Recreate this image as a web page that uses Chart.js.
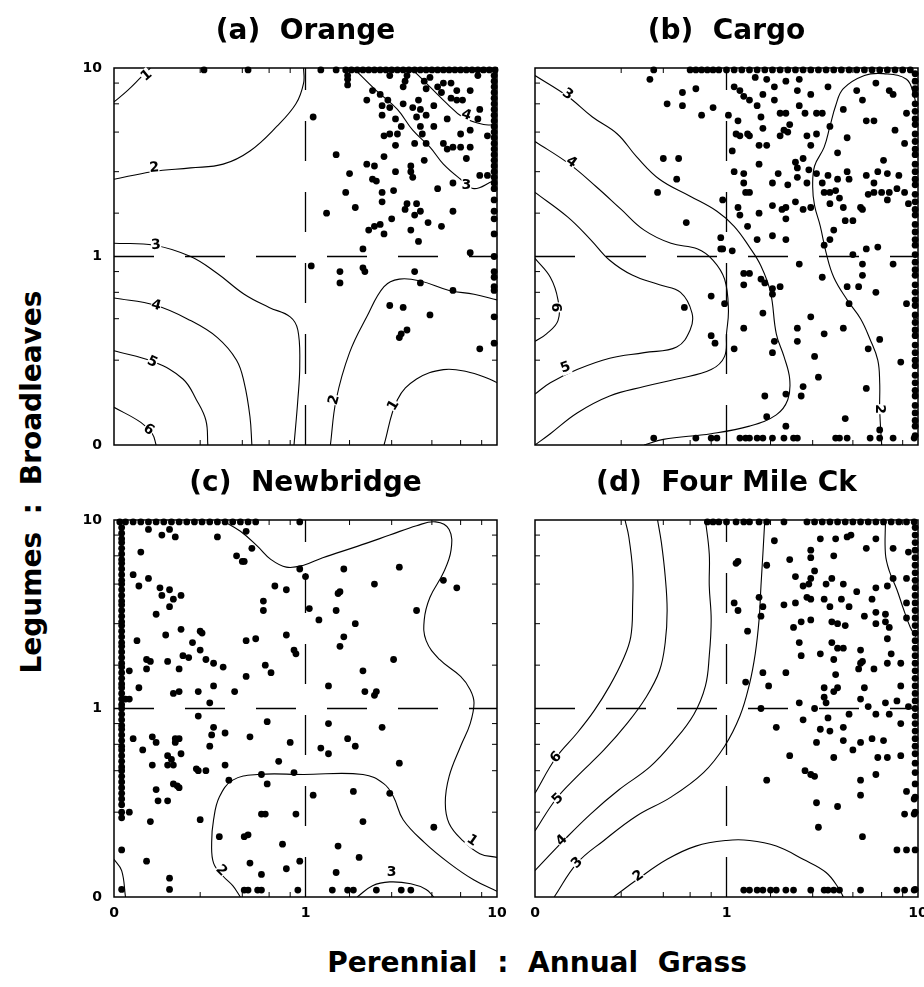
<!DOCTYPE html>
<html>
<head>
<meta charset="utf-8">
<script src="https://cdn.jsdelivr.net/npm/chart.js@4.4.1/dist/chart.umd.min.js"></script>
<style>
  html, body { margin: 0; padding: 0; background: #fff; overflow: hidden; }
  #page { position: relative; width: 924px; height: 987px; overflow: hidden; }
  canvas { position: absolute; }
  .axt { position: absolute; font: bold 28px "DejaVu Sans"; color: #000; text-align: center; white-space: nowrap; line-height: 34px; }
</style>
</head>
<body>
<div id="page">
  <canvas id="ca" width="440" height="450" style="left:74px;top:0px"></canvas>
  <canvas id="cb" width="410" height="450" style="left:525px;top:0px"></canvas>
  <canvas id="cc" width="440" height="480" style="left:74px;top:450px"></canvas>
  <canvas id="cd" width="410" height="480" style="left:525px;top:450px"></canvas>
  <div class="axt" style="left:237px;top:946px;width:600px;word-spacing:10px">Perennial : Annual Grass</div>
  <div class="axt" style="left:-218px;top:465px;width:500px;word-spacing:8px;transform:rotate(-90deg)">Legumes : Broadleaves</div>
</div>
<script>
// axes: plotted position 0..2, labelled as ratios 0, 1, 10
const tickVals = [0, 1, 2];
const tickText = ['0', '1', '10'];
const minorTicks = [0.45, 0.67, 0.81, 0.92, 1.23, 1.45, 1.66, 1.81, 1.92];
const refLine = 1;
const topEdge = 1.99, rightEdge = 1.985, bottomEdge = 0.037, leftEdge = 0.04;

// (a) Orange
const orangePts = [[1.04,1.74],[1.16,1.54],[1.22,1.91],[1.22,1.94],[1.23,1.44],[1.21,1.34],[1.11,1.23],[1.26,1.26],[1.32,1.83],[1.32,1.49],[1.36,1.48],[1.37,1.40],[1.35,1.41],[1.41,1.53],[1.40,1.34],[1.40,1.29],[1.46,1.35],[1.41,1.64],[1.44,1.65],[1.35,1.88],[1.39,1.86],[1.43,1.83],[1.40,1.80],[1.40,1.75],[1.44,1.79],[1.47,1.73],[1.48,1.65],[1.50,1.69],[1.51,1.90],[1.52,1.93],[1.51,1.81],[1.56,1.79],[1.59,1.83],[1.60,1.78],[1.58,1.74],[1.60,1.69],[1.61,1.65],[1.63,1.60],[1.63,1.75],[1.67,1.80],[1.67,1.69],[1.69,1.90],[1.71,1.87],[1.72,1.92],[1.76,1.92],[1.76,1.84],[1.79,1.83],[1.82,1.83],[1.79,1.88],[1.86,1.88],[1.90,1.96],[1.91,1.78],[1.90,1.73],[1.84,1.75],[1.74,1.73],[1.81,1.65],[1.86,1.67],[1.95,1.64],[1.72,1.60],[1.74,1.57],[1.77,1.58],[1.81,1.58],[1.86,1.58],[1.84,1.52],[1.62,1.51],[1.55,1.48],[1.55,1.45],[1.56,1.42],[1.47,1.45],[1.47,1.59],[1.57,1.60],[1.53,1.28],[1.58,1.28],[1.57,1.22],[1.60,1.24],[1.64,1.18],[1.71,1.16],[1.77,1.24],[1.52,1.25],[1.45,1.20],[1.39,1.17],[1.36,1.16],[1.33,1.14],[1.41,1.12],[1.55,1.14],[1.59,1.08],[1.69,1.36],[1.77,1.39],[1.91,1.43],[1.95,1.43],[1.30,1.04],[1.86,1.02],[1.03,0.95],[1.18,0.92],[1.18,0.86],[1.30,0.94],[1.31,0.92],[1.57,0.92],[1.60,0.86],[1.77,0.82],[1.44,0.74],[1.51,0.73],[1.65,0.69],[1.53,0.61],[1.50,0.59],[1.49,0.57],[1.91,0.51],[1.65,1.95],[1.62,1.93],[1.63,1.89],[1.53,1.96],[1.44,1.96],[1.22,1.96]];
const orangeTopX = [0.47,0.70,1.08,1.16,1.21,1.24,1.27,1.30,1.33,1.36,1.39,1.42,1.45,1.48,1.51,1.54,1.57,1.60,1.63,1.66,1.69,1.72,1.75,1.78,1.81,1.84,1.87,1.90,1.93,1.96,1.99];
const orangeRightY = [1.96,1.93,1.90,1.87,1.84,1.81,1.78,1.75,1.72,1.69,1.66,1.63,1.60,1.57,1.54,1.51,1.48,1.45,1.42,1.39,1.36,1.30,1.24,1.20,1.12,1.00,0.92,0.89,0.84,0.82,0.68,0.54];
const orangeLines = [
  [[0,1.82],[0.07,1.88],[0.14,1.95],[0.19,2.0]],
  [[0,1.41],[0.2,1.45],[0.4,1.47],[0.57,1.49],[0.71,1.56],[0.85,1.69],[0.95,1.81],[0.99,1.92],[0.99,2.0]],
  [[1.25,2.0],[1.37,1.88],[1.48,1.78],[1.56,1.67],[1.65,1.58],[1.72,1.49],[1.81,1.41],[1.88,1.36],[1.98,1.40],[2.0,1.40]],
  [[1.55,2.0],[1.65,1.90],[1.74,1.81],[1.82,1.74],[1.93,1.70],[2.0,1.70]],
  [[0,1.07],[0.21,1.06],[0.40,1.0],[0.54,0.91],[0.68,0.80],[0.81,0.73],[0.92,0.68],[0.96,0.61],[0.97,0.42],[0.96,0.24],[0.94,0]],
  [[0,0.78],[0.22,0.74],[0.40,0.66],[0.54,0.57],[0.64,0.45],[0.68,0.33],[0.71,0.15],[0.72,0]],
  [[0,0.50],[0.21,0.44],[0.36,0.35],[0.43,0.24],[0.48,0.13],[0.49,0]],
  [[0,0.20],[0.14,0.12],[0.20,0.06],[0.22,0]],
  [[1.13,0],[1.16,0.24],[1.23,0.49],[1.32,0.68],[1.41,0.84],[1.49,0.88],[1.60,0.87],[1.75,0.82],[1.88,0.80],[2.0,0.77]],
  [[1.41,0],[1.48,0.24],[1.58,0.35],[1.72,0.40],[1.84,0.39],[1.96,0.35],[2.0,0.33]]
];
const orangeLabels = [[0.17,1.96,'1',-40],[0.21,1.47,'2',-5],[0.22,1.06,'3',-5],[0.22,0.74,'4',15],[0.20,0.44,'5',25],[0.18,0.08,'6',35],[1.15,0.24,'2',-75],[1.46,0.21,'1',-60],[1.84,1.38,'3',0],[1.84,1.75,'4',20]];

// (b) Cargo
const cargoPts = [[0.60,1.94],[0.77,1.87],[0.84,1.89],[0.69,1.81],[0.77,1.80],[0.93,1.79],[0.87,1.75],[1.01,1.75],[1.04,1.90],[1.07,1.88],[1.09,1.85],[1.12,1.83],[1.16,1.80],[1.15,1.95],[1.21,1.94],[1.25,1.90],[1.31,1.93],[1.38,1.94],[1.37,1.88],[1.44,1.86],[1.53,1.90],[1.19,1.86],[1.25,1.83],[1.28,1.76],[1.31,1.76],[1.33,1.70],[1.38,1.80],[1.41,1.76],[1.47,1.76],[1.50,1.76],[1.61,1.78],[1.68,1.88],[1.78,1.92],[1.85,1.88],[1.87,1.86],[1.71,1.83],[1.94,1.76],[1.73,1.72],[1.77,1.72],[1.54,1.69],[1.88,1.67],[1.93,1.60],[1.63,1.63],[1.58,1.55],[1.82,1.51],[1.06,1.72],[1.18,1.74],[1.05,1.65],[1.07,1.64],[1.12,1.64],[1.11,1.65],[1.19,1.68],[1.17,1.59],[1.21,1.59],[1.28,1.64],[1.30,1.67],[1.32,1.66],[1.42,1.64],[1.47,1.65],[1.44,1.59],[1.03,1.56],[1.17,1.49],[1.36,1.50],[1.40,1.52],[0.67,1.52],[0.75,1.52],[0.74,1.41],[0.64,1.34],[1.04,1.45],[1.09,1.44],[1.09,1.39],[1.10,1.34],[1.12,1.34],[1.24,1.39],[1.27,1.44],[1.32,1.38],[1.37,1.42],[1.37,1.47],[1.43,1.46],[1.42,1.39],[1.47,1.44],[1.50,1.39],[1.53,1.43],[1.58,1.41],[1.63,1.45],[1.64,1.41],[1.51,1.34],[1.54,1.34],[1.57,1.35],[1.59,1.31],[1.73,1.43],[1.77,1.39],[1.79,1.45],[1.84,1.44],[1.90,1.43],[1.89,1.36],[1.74,1.33],[1.77,1.34],[1.81,1.34],[1.85,1.34],[1.84,1.30],[1.70,1.26],[1.71,1.25],[1.61,1.26],[1.54,1.28],[1.93,1.34],[1.95,1.28],[0.98,1.30],[1.06,1.26],[1.07,1.22],[1.17,1.23],[1.24,1.27],[1.29,1.25],[1.31,1.26],[1.36,1.29],[1.40,1.25],[1.44,1.26],[1.31,1.20],[1.11,1.16],[1.16,1.09],[1.24,1.11],[1.31,1.09],[0.79,1.18],[0.97,1.10],[0.98,1.04],[1.03,1.03],[0.97,1.04],[1.51,1.06],[1.54,1.09],[1.62,1.19],[1.66,1.19],[1.56,1.14],[1.73,1.04],[1.79,1.05],[1.71,0.96],[1.87,0.96],[1.66,1.01],[1.38,0.96],[1.71,0.90],[1.09,0.91],[1.12,0.91],[1.18,0.88],[1.20,0.86],[1.24,0.83],[1.28,0.84],[1.24,0.80],[1.09,0.85],[1.50,0.89],[1.63,0.84],[1.69,0.84],[1.78,0.81],[0.92,0.79],[0.99,0.75],[0.78,0.73],[1.19,0.70],[1.44,0.68],[1.61,0.62],[1.64,0.75],[1.94,0.75],[1.37,0.62],[1.51,0.59],[1.09,0.62],[0.92,0.58],[0.94,0.54],[1.04,0.51],[1.25,0.55],[1.37,0.55],[1.24,0.49],[1.46,0.47],[1.74,0.51],[1.80,0.56],[1.48,0.36],[1.40,0.31],[1.39,0.26],[1.31,0.27],[1.20,0.26],[1.73,0.30],[1.91,0.44],[1.21,0.15],[1.31,0.10],[1.62,0.14],[1.80,0.08]];
const cargoTopX = [0.62,0.81,0.84,0.87,0.90,0.93,0.96,1.00,1.04,1.08,1.12,1.16,1.20,1.24,1.28,1.32,1.36,1.40,1.44,1.48,1.52,1.56,1.60,1.64,1.68,1.72,1.76,1.80,1.84,1.88,1.92,1.96];
const cargoBottomX = [0.62,0.84,0.92,0.95,1.07,1.10,1.12,1.16,1.19,1.24,1.30,1.35,1.37,1.57,1.59,1.63,1.75,1.80,1.87,1.98];
const cargoRightY = [1.97,1.93,1.89,1.86,1.81,1.77,1.73,1.70,1.65,1.61,1.57,1.54,1.49,1.45,1.41,1.38,1.33,1.29,1.25,1.22,1.17,1.13,1.09,1.06,1.01,0.97,0.93,0.90,0.85,0.81,0.77,0.74,0.69,0.65,0.61,0.58,0.53,0.49,0.45,0.42,0.37,0.33,0.29,0.26,0.21,0.17,0.13,0.10,0.05];
const cargoLines = [
  [[0,1.96],[0.17,1.85],[0.30,1.74],[0.43,1.65],[0.53,1.53],[0.65,1.41],[0.81,1.32],[0.95,1.24],[1.04,1.16],[1.12,1.05],[1.18,0.95],[1.23,0.81],[1.26,0.59],[1.30,0.47],[1.33,0.35],[1.32,0.24],[1.26,0.16],[1.12,0.10],[0.92,0.06],[0.67,0.03],[0.57,0]],
  [[0,1.61],[0.18,1.49],[0.32,1.37],[0.45,1.25],[0.57,1.14],[0.71,1.07],[0.85,1.04],[0.93,0.98],[0.99,0.88],[1.01,0.72],[1.0,0.59],[0.99,0.47],[0.92,0.40],[0.74,0.35],[0.57,0.31],[0.39,0.26],[0.22,0.17],[0.08,0.06],[0,0]],
  [[0,1.34],[0.17,1.21],[0.29,1.09],[0.39,0.98],[0.51,0.90],[0.65,0.85],[0.76,0.81],[0.82,0.70],[0.81,0.61],[0.74,0.52],[0.57,0.49],[0.39,0.46],[0.22,0.40],[0.08,0.33],[0,0.27]],
  [[0,0.99],[0.08,0.89],[0.12,0.77],[0.12,0.66],[0.06,0.59],[0,0.55]],
  [[1.99,1.80],[1.98,1.85],[1.94,1.94],[1.82,1.97],[1.72,1.96],[1.61,1.89],[1.57,1.80],[1.54,1.69],[1.51,1.58],[1.46,1.48],[1.45,1.37],[1.46,1.27],[1.49,1.16],[1.52,1.02],[1.56,0.89],[1.63,0.77],[1.70,0.67],[1.75,0.56],[1.79,0.45],[1.80,0.33],[1.80,0.19],[1.81,0]]
];
const cargoLabels = [[0.17,1.86,'3',35],[0.19,1.50,'4',35],[0.16,0.41,'5',-20],[0.11,0.73,'6',90],[1.80,0.19,'2',90]];

// (c) Newbridge
const newbridgePts = [[0.18,1.95],[0.25,1.92],[0.29,1.95],[0.32,1.91],[0.54,1.91],[0.69,1.94],[0.72,1.85],[0.14,1.83],[0.64,1.81],[0.67,1.78],[0.68,1.78],[0.10,1.71],[0.18,1.69],[0.13,1.65],[0.24,1.64],[0.29,1.63],[0.25,1.60],[0.31,1.58],[0.35,1.60],[0.29,1.54],[0.22,1.50],[0.27,1.39],[0.35,1.42],[0.12,1.36],[0.41,1.35],[0.45,1.41],[0.46,1.40],[0.45,1.31],[0.36,1.28],[0.39,1.27],[0.48,1.26],[0.52,1.24],[0.57,1.22],[0.17,1.26],[0.19,1.25],[0.28,1.25],[0.34,1.21],[0.17,1.21],[0.08,1.20],[0.13,1.11],[0.31,1.08],[0.34,1.09],[0.44,1.09],[0.52,1.12],[0.63,1.09],[0.69,1.17],[0.69,1.36],[0.74,1.37],[0.79,1.23],[0.82,1.19],[0.90,1.39],[0.94,1.31],[0.95,1.29],[0.84,1.65],[0.90,1.63],[0.78,1.57],[0.78,1.52],[0.97,1.74],[1.00,1.70],[1.02,1.53],[1.07,1.47],[1.16,1.52],[1.20,1.74],[1.17,1.61],[1.18,1.62],[1.20,1.38],[1.18,1.33],[1.26,1.45],[1.36,1.66],[1.49,1.75],[1.58,1.52],[1.72,1.68],[1.79,1.64],[1.46,1.26],[1.30,1.20],[1.12,1.12],[1.31,1.09],[1.37,1.09],[1.36,1.07],[0.44,0.96],[0.50,1.03],[0.52,0.90],[0.51,0.86],[0.58,0.87],[0.50,0.80],[0.10,0.84],[0.15,0.78],[0.20,0.85],[0.22,0.82],[0.32,0.84],[0.34,0.84],[0.32,0.82],[0.28,0.75],[0.30,0.73],[0.35,0.76],[0.28,0.70],[0.20,0.70],[0.31,0.70],[0.43,0.68],[0.48,0.67],[0.44,0.67],[0.58,0.70],[0.60,0.62],[0.71,0.85],[0.80,0.93],[0.92,0.82],[0.86,0.72],[0.94,0.66],[0.77,0.65],[0.80,0.60],[1.04,0.54],[1.08,0.79],[1.12,0.76],[1.12,0.92],[1.22,0.84],[1.26,0.80],[1.40,0.90],[1.49,0.71],[1.25,0.56],[1.30,0.40],[0.31,0.60],[0.33,0.59],[0.34,0.58],[0.22,0.57],[0.23,0.51],[0.28,0.51],[0.08,0.45],[0.19,0.40],[0.45,0.41],[0.55,0.32],[0.68,0.32],[0.70,0.33],[0.77,0.44],[0.79,0.44],[0.95,0.44],[0.88,0.28],[1.17,0.27],[1.28,0.21],[0.97,0.19],[0.71,0.18],[0.77,0.12],[0.90,0.15],[1.16,0.13],[0.17,0.19],[0.29,0.10],[0.29,0.04],[0.04,0.25],[0.04,0.04],[1.67,0.37],[1.44,0.55],[0.06,1.05],[0.08,1.05]];
const newbridgeTopX = [0.03,0.06,0.10,0.14,0.18,0.22,0.26,0.30,0.34,0.38,0.42,0.46,0.50,0.54,0.58,0.62,0.66,0.70,0.74,0.97];
const newbridgeBottomX = [0.68,0.70,0.75,0.77,0.96,1.14,1.22,1.25,1.37,1.50,1.55];
const newbridgeLeftY = [1.96,1.93,1.90,1.88,1.85,1.82,1.79,1.77,1.74,1.71,1.68,1.66,1.63,1.60,1.57,1.55,1.52,1.49,1.46,1.44,1.41,1.38,1.35,1.33,1.30,1.27,1.24,1.22,1.19,1.16,1.13,1.11,1.08,1.05,1.02,1.00,0.97,0.94,0.91,0.89,0.86,0.83,0.80,0.78,0.75,0.72,0.69,0.67,0.64,0.61,0.58,0.55,0.52,0.49,0.45,0.42];
const newbridgeLines = [
  [[0.56,2.0],[0.66,1.94],[0.75,1.86],[0.82,1.79],[0.90,1.75],[0.99,1.76],[1.09,1.80],[1.27,1.86],[1.44,1.92],[1.58,1.97],[1.68,1.99],[1.75,1.95],[1.76,1.84],[1.72,1.72],[1.65,1.59],[1.62,1.47],[1.63,1.36],[1.70,1.26],[1.81,1.17],[1.86,1.10],[1.88,1.03],[1.86,0.92],[1.81,0.80],[1.75,0.64],[1.73,0.50],[1.75,0.39],[1.82,0.30],[1.91,0.23],[2.0,0.21]],
  [[2.0,0.03],[1.88,0.09],[1.75,0.18],[1.62,0.29],[1.51,0.41],[1.46,0.53],[1.41,0.60],[1.30,0.65],[0.99,0.65],[0.75,0.65],[0.62,0.62],[0.55,0.53],[0.52,0.41],[0.51,0.29],[0.52,0.18],[0.57,0.11],[0.62,0.06],[0.66,0]],
  [[1.27,0],[1.35,0.06],[1.44,0.08],[1.55,0.07],[1.63,0.04],[1.67,0]],
  [[0,0.20],[0.04,0.14],[0.06,0]]
];
const newbridgeLabels = [[1.87,0.30,'1',35],[0.56,0.14,'2',45],[1.45,0.13,'3',0]];

// (d) Four Mile Ck
const fourMilePts = [[1.25,1.89],[1.49,1.90],[1.57,1.90],[1.63,1.91],[1.65,1.92],[1.78,1.90],[1.73,1.85],[1.87,1.85],[1.95,1.83],[1.44,1.84],[1.44,1.80],[1.56,1.81],[1.33,1.79],[1.06,1.78],[1.05,1.77],[1.21,1.76],[1.46,1.73],[1.36,1.70],[1.44,1.69],[1.55,1.69],[1.61,1.66],[1.40,1.65],[1.43,1.66],[1.52,1.66],[1.68,1.62],[1.78,1.64],[1.84,1.65],[1.87,1.69],[1.94,1.69],[1.76,1.58],[1.60,1.58],[1.42,1.59],[1.44,1.58],[1.51,1.58],[1.17,1.59],[1.30,1.55],[1.36,1.56],[1.54,1.54],[1.64,1.54],[1.78,1.51],[1.83,1.50],[1.94,1.56],[1.94,1.48],[1.04,1.56],[1.06,1.52],[1.19,1.54],[1.18,1.49],[1.11,1.41],[1.35,1.43],[1.39,1.46],[1.44,1.47],[1.55,1.46],[1.58,1.45],[1.62,1.44],[1.72,1.49],[1.78,1.45],[1.83,1.46],[1.85,1.43],[1.84,1.37],[1.86,1.29],[1.91,1.24],[1.38,1.35],[1.39,1.28],[1.49,1.29],[1.55,1.35],[1.58,1.32],[1.61,1.32],[1.70,1.31],[1.70,1.24],[1.71,1.25],[1.69,1.21],[1.77,1.21],[1.84,1.24],[1.91,1.12],[1.56,1.26],[1.57,1.18],[1.51,1.11],[1.51,1.06],[1.56,1.09],[1.58,1.11],[1.72,1.11],[1.10,1.14],[1.22,1.12],[1.19,1.19],[1.31,1.19],[1.38,1.03],[1.46,1.00],[1.52,1.03],[1.53,0.95],[1.64,0.97],[1.70,1.05],[1.74,1.01],[1.78,0.97],[1.83,1.03],[1.85,0.97],[1.89,1.04],[1.91,0.92],[1.95,1.01],[1.18,1.00],[1.26,0.90],[1.40,0.94],[1.49,0.89],[1.54,0.88],[1.47,0.82],[1.61,0.90],[1.61,0.83],[1.66,0.78],[1.70,0.82],[1.76,0.84],[1.82,0.83],[1.79,0.74],[1.84,0.74],[1.56,0.74],[1.91,0.75],[1.33,0.75],[1.41,0.67],[1.46,0.64],[1.44,0.65],[1.21,0.62],[1.70,0.62],[1.78,0.65],[1.94,0.56],[1.70,0.54],[1.98,0.52],[1.47,0.50],[1.58,0.48],[1.93,0.44],[1.98,0.44],[1.48,0.37],[1.71,0.32],[1.89,0.25],[1.94,0.25]];
const fourMileTopX = [0.90,0.93,0.96,1.00,1.05,1.09,1.12,1.17,1.21,1.30,1.42,1.46,1.50,1.54,1.58,1.62,1.66,1.70,1.74,1.78,1.82,1.86,1.90,1.94,1.98];
const fourMileBottomX = [1.09,1.12,1.16,1.19,1.23,1.26,1.31,1.35,1.44,1.51,1.53,1.56,1.59,1.70,1.89,1.93,1.98];
const fourMileRightY = [1.96,1.92,1.88,1.84,1.80,1.76,1.72,1.68,1.64,1.60,1.56,1.52,1.48,1.44,1.40,1.36,1.32,1.28,1.24,1.20,1.16,1.12,1.08,1.04,1.00,0.96,0.92,0.88,0.84,0.80,0.76,0.71,0.66,0.60,0.53,0.45,0.25,0.04];
const fourMileLines = [
  [[0.47,2.0],[0.49,1.91],[0.51,1.73],[0.51,1.56],[0.50,1.38],[0.46,1.26],[0.39,1.12],[0.31,0.99],[0.22,0.87],[0.11,0.74],[0,0.55]],
  [[0.64,2.0],[0.66,1.88],[0.68,1.70],[0.69,1.52],[0.68,1.35],[0.65,1.20],[0.58,1.06],[0.48,0.92],[0.36,0.78],[0.22,0.64],[0.11,0.52],[0,0.35]],
  [[0.89,2.0],[0.91,1.82],[0.91,1.65],[0.92,1.47],[0.91,1.28],[0.89,1.12],[0.83,0.97],[0.72,0.82],[0.60,0.69],[0.44,0.57],[0.29,0.44],[0.15,0.30],[0,0.14]],
  [[1.20,2.0],[1.19,1.82],[1.18,1.65],[1.17,1.47],[1.15,1.29],[1.12,1.13],[1.07,0.96],[0.99,0.80],[0.88,0.66],[0.71,0.53],[0.53,0.43],[0.36,0.30],[0.22,0.18],[0.10,0]],
  [[0.41,0],[0.53,0.09],[0.69,0.20],[0.84,0.27],[1.0,0.30],[1.12,0.30],[1.26,0.27],[1.40,0.20],[1.52,0.13],[1.59,0.04],[1.61,0]],
  [[1.83,2.0],[1.83,1.82],[1.85,1.73],[1.89,1.63],[1.92,1.54],[1.96,1.43],[1.99,1.38]]
];
const fourMileLabels = [[0.11,0.74,'6',-45],[0.12,0.52,'5',-45],[0.14,0.30,'4',-45],[0.22,0.18,'3',-45],[0.54,0.11,'2',-35]];

const tickFont = { family: 'DejaVu Sans', size: 14, weight: 'bold' };

const framePlugin = {
  id: 'frame',
  afterDatasetsDraw(chart, args, opts) {
    const { ctx, chartArea: a, scales: { x, y } } = chart;
    ctx.save();
    ctx.strokeStyle = '#000';
    ctx.lineWidth = 1.5;
    ctx.strokeRect(a.left, a.top, a.right - a.left, a.bottom - a.top);
    ctx.lineWidth = 1;
    ctx.beginPath();
    minorTicks.forEach(v => {
      const py = y.getPixelForValue(v), px = x.getPixelForValue(v);
      ctx.moveTo(a.left, py); ctx.lineTo(a.left + 5, py);
      ctx.moveTo(a.right, py); ctx.lineTo(a.right - 5, py);
      ctx.moveTo(px, a.top); ctx.lineTo(px, a.top + 5);
      ctx.moveTo(px, a.bottom); ctx.lineTo(px, a.bottom - 5);
    });
    ctx.stroke();
    ctx.font = 'bold 14px "DejaVu Sans"';
    ctx.textAlign = 'center';
    ctx.textBaseline = 'middle';
    (opts.labels || []).forEach(([lx, ly, t, rot]) => {
      ctx.save();
      ctx.translate(x.getPixelForValue(lx), y.getPixelForValue(ly));
      ctx.rotate(rot * Math.PI / 180);
      ctx.fillStyle = '#fff';
      ctx.fillRect(-5, -7, 10, 14);
      ctx.fillStyle = '#000';
      ctx.fillText(t, 0, 0);
      ctx.restore();
    });
    ctx.restore();
  }
};

function toXY(list) { return list.map(p => ({ x: p[0], y: p[1] })); }

function makePanel(id, title, pts, lines, labels, showX, showY, yW, xH, padR, titleTop) {
  const datasets = [{
    data: toXY(pts),
    pointRadius: 3.4,
    backgroundColor: '#000',
    borderWidth: 0,
    clip: false
  }];
  lines.forEach(l => datasets.push({
    data: toXY(l),
    showLine: true,
    pointRadius: 0,
    borderColor: '#000',
    borderWidth: 1.1,
    tension: 0.4
  }));
  datasets.push({
    data: [{ x: refLine, y: 0 }, { x: refLine, y: 2 }],
    showLine: true, pointRadius: 0, borderColor: '#000', borderWidth: 1.3, borderDash: [40, 31]
  });
  datasets.push({
    data: [{ x: 0, y: refLine }, { x: 2, y: refLine }],
    showLine: true, pointRadius: 0, borderColor: '#000', borderWidth: 1.3, borderDash: [40, 31]
  });

  new Chart(document.getElementById(id), {
    type: 'scatter',
    data: { datasets },
    plugins: [framePlugin],
    options: {
      responsive: false,
      animation: false,
      events: [],
      layout: { padding: { left: 0, right: padR, top: 0, bottom: 0 } },
      scales: {
        x: {
          type: 'linear', min: 0, max: 2,
          afterBuildTicks: s => { s.ticks = tickVals.map(v => ({ value: v })); },
          afterFit: s => { s.height = xH; s.paddingLeft = 0; s.paddingRight = 0; },
          grid: { display: false, drawTicks: false },
          border: { display: false },
          ticks: {
            display: showX, autoSkip: false, maxRotation: 0, padding: 8,
            color: '#000', font: tickFont,
            callback: v => tickText[tickVals.indexOf(v)]
          }
        },
        y: {
          type: 'linear', min: 0, max: 2,
          afterBuildTicks: s => { s.ticks = tickVals.map(v => ({ value: v })); },
          afterFit: s => { s.width = yW; s.paddingTop = 0; s.paddingBottom = 0; },
          grid: { display: false, drawTicks: false },
          border: { display: false },
          ticks: {
            display: showY, autoSkip: false, padding: 12,
            color: '#000', font: tickFont,
            callback: v => tickText[tickVals.indexOf(v)]
          }
        }
      },
      plugins: {
        legend: { display: false },
        tooltip: { enabled: false },
        title: {
          display: true, text: title, fullSize: false, color: '#000',
          font: { family: 'DejaVu Sans', size: 28, weight: 'bold', lineHeight: 1.2 },
          padding: { top: titleTop, bottom: 19.2 }
        },
        frame: { labels }
      }
    }
  });
}

function edgeRow(xs, y) { return xs.map(x => [x, y]); }
function edgeCol(ys, x) { return ys.map(y => [x, y]); }

makePanel('ca', '(a)  Orange',
  orangePts.concat(edgeRow(orangeTopX, topEdge), edgeCol(orangeRightY, rightEdge)),
  orangeLines, orangeLabels, false, true, 40, 5, 17, 15.2);
makePanel('cb', '(b)  Cargo',
  cargoPts.concat(edgeRow(cargoTopX, topEdge), edgeRow(cargoBottomX, bottomEdge), edgeCol(cargoRightY, rightEdge)),
  cargoLines, cargoLabels, false, false, 10, 5, 17, 15.2);
makePanel('cc', '(c)  Newbridge',
  newbridgePts.concat(edgeRow(newbridgeTopX, topEdge), edgeRow(newbridgeBottomX, bottomEdge), edgeCol(newbridgeLeftY, leftEdge)),
  newbridgeLines, newbridgeLabels, true, true, 40, 33, 17, 17.2);
makePanel('cd', '(d)  Four Mile Ck',
  fourMilePts.concat(edgeRow(fourMileTopX, topEdge), edgeRow(fourMileBottomX, bottomEdge), edgeCol(fourMileRightY, rightEdge)),
  fourMileLines, fourMileLabels, true, false, 10, 33, 17, 17.2);
</script>
</body>
</html>
